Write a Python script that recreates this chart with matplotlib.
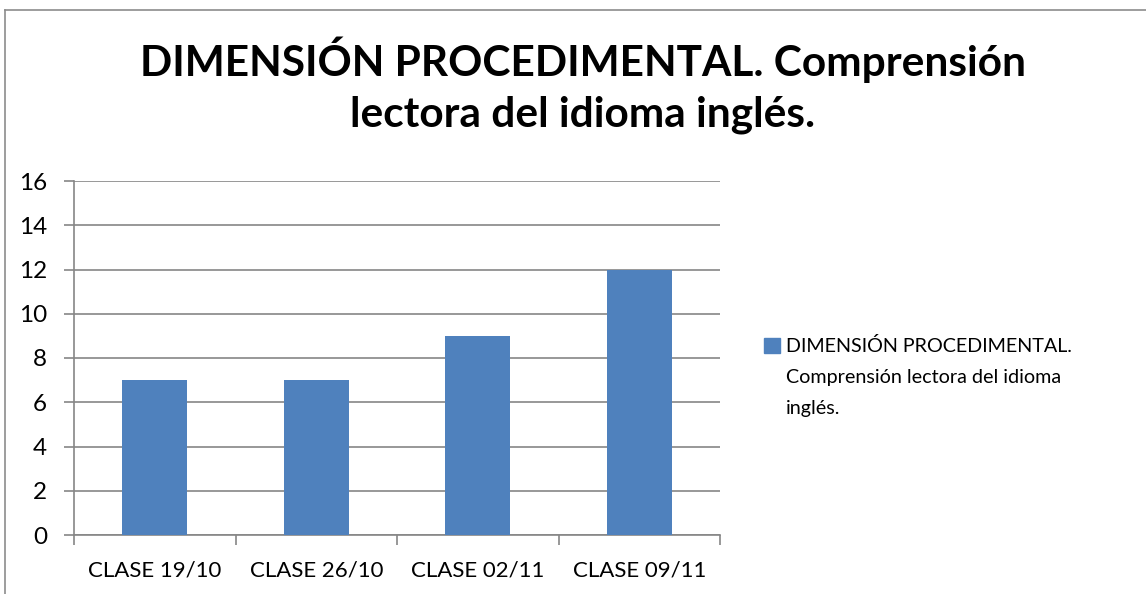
import matplotlib
matplotlib.use("Agg")
from matplotlib import pyplot as plt
from matplotlib.patches import Rectangle
import numpy as np

categories = ["CLASE 19/10", "CLASE 26/10", "CLASE 02/11", "CLASE 09/11"]
values = [7, 7, 9, 12]
title_lines = ["DIMENSIÓN PROCEDIMENTAL. Comprensión", "lectora del idioma inglés."]
legend_lines = ["DIMENSIÓN PROCEDIMENTAL.", "Comprensión lectora del idioma", "inglés."]

bar_color = "#4F81BD"
grid_color = "#868686"

plt.rcParams['font.family'] = ['Lato', 'DejaVu Sans']

W, H = 1146, 594
fig = plt.figure(figsize=(W/100, H/100), dpi=100)
ax = fig.add_axes([74/W, 1-535/H, (720-74)/W, (535-181)/H])

x = np.arange(len(categories))
ax.bar(x, values, width=0.4, color=bar_color, zorder=3)

ax.set_xlim(-0.5, len(categories) - 0.5)
ax.set_ylim(0, 16)
ax.set_yticks(np.arange(0, 17, 2))
ax.yaxis.grid(True, color=grid_color, linewidth=1.2, zorder=0)
ax.tick_params(axis='y', length=7, width=1.2, color=grid_color, pad=12.5, labelsize=17.5)

# category boundaries get tick marks, labels sit at the centers
ax.set_xticks(np.arange(-0.5, len(categories), 1.0))
ax.set_xticklabels([])
ax.tick_params(axis='x', which='major', length=7.5, width=1.2, color=grid_color)
ax.set_xticks(x, categories, minor=True)
ax.tick_params(axis='x', which='minor', length=0, pad=18.5, labelsize=16)

for s in ['top', 'right']:
    ax.spines[s].set_visible(False)
for s in ['left', 'bottom']:
    ax.spines[s].set_color(grid_color)
    ax.spines[s].set_linewidth(1.2)

# title, one text per line so the baselines land where they should
for line, base in zip(title_lines, [76, 127]):
    fig.text(583/W, 1-base/H, line, ha='center', va='baseline',
             fontsize=30.5, fontweight='bold')

# legend drawn by hand so the marker sits on the first line
fig.patches.append(Rectangle((764/W, 1-353/H), 16/W, 15/H,
                             transform=fig.transFigure, color=bar_color))
for line, base in zip(legend_lines, [352, 383, 414]):
    fig.text(786/W, 1-base/H, line, ha='left', va='baseline', fontsize=14.2)

# chart border (right/bottom edges fall outside the image)
fig.add_artist(plt.Line2D([5/W, 5/W], [0, 1-10/H], transform=fig.transFigure,
                          color="#8c8c8c", linewidth=1.2))
fig.add_artist(plt.Line2D([5/W, 1], [1-10/H, 1-10/H], transform=fig.transFigure,
                          color="#8c8c8c", linewidth=1.2))

fig.savefig("out.png", dpi=100)
